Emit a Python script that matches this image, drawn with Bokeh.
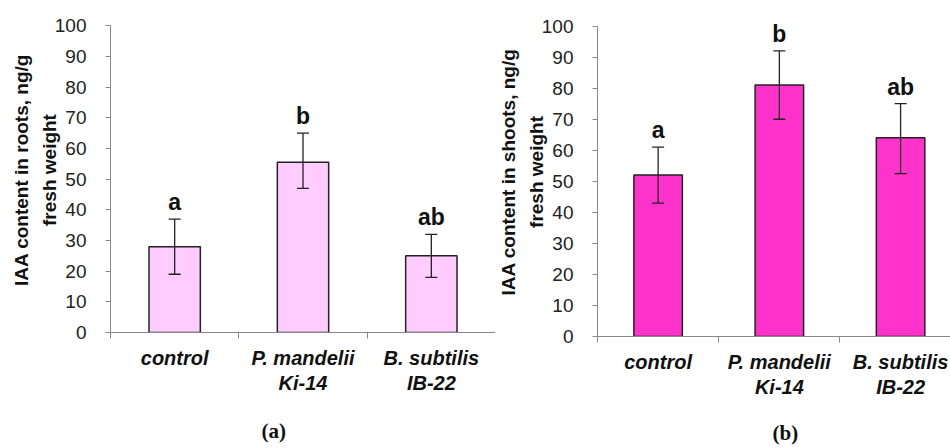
from bokeh.plotting import figure
from bokeh.models import ColumnDataSource, FixedTicker, Title, Whisker, Range1d
from bokeh.layouts import row
from bokeh.core.properties import value
from bokeh.embed import file_html
from bokeh.resources import INLINE

# ---- data ----
categories = ["control", "P. mandelii\nKi-14", "B. subtilis\nIB-22"]
roots_mean = [28, 55.5, 25]
roots_lower = [19, 47, 18]
roots_upper = [37, 65, 32]
roots_letters = ["a", "b", "ab"]
shoots_mean = [52, 81, 64]
shoots_lower = [43, 70, 52.5]
shoots_upper = [61, 92, 75]
shoots_letters = ["a", "b", "ab"]
y_ticks = list(range(0, 101, 10))

SANS = "Liberation Sans"
Y_TOP = 106  # headroom so letters above the axis top are not clipped


def panel(means, lows, ups, letters, ylabel, color, caption, frame_w, px_per_unit,
          border_left, top_of_100, x_end, cap_offset, cap_standoff):
    xs = [i + 0.5 for i in range(len(means))]
    src = ColumnDataSource(dict(x=xs, top=means, lower=lows, upper=ups, letters=letters))
    frame_h = int(round(px_per_unit * Y_TOP))
    border_top = int(round(top_of_100 - px_per_unit * (Y_TOP - 100)))
    p = figure(frame_width=frame_w, frame_height=frame_h, output_backend="svg",
               toolbar_location=None,
               x_range=Range1d(0, x_end), y_range=Range1d(0, Y_TOP),
               min_border_left=border_left, min_border_right=0, min_border_top=border_top,
               min_border_bottom=0)
    p.outline_line_color = None
    p.xgrid.visible = False
    p.ygrid.visible = False
    p.background_fill_color = "white"
    p.border_fill_color = "white"

    p.vbar(x="x", top="top", width=0.4, bottom=0, source=src,
           fill_color=color, line_color="#222222", line_width=1.5)
    w = Whisker(base="x", lower="lower", upper="upper", source=src,
                line_color="#222222", line_width=1.3, level="overlay")
    w.upper_head.size = 12
    w.lower_head.size = 12
    w.upper_head.line_color = "#222222"
    w.lower_head.line_color = "#222222"
    w.upper_head.line_width = 1.3
    w.lower_head.line_width = 1.3
    p.add_layout(w)
    p.text(x="x", y="upper", text="letters", source=src, text_align="center",
           text_baseline="bottom", y_offset=-4, text_font=value(SANS),
           text_font_size="23px", text_font_style="bold", text_color="#111111")

    # y axis
    ya = p.yaxis[0]
    ya.ticker = FixedTicker(ticks=y_ticks)
    ya.bounds = (0, 100)
    ya.axis_line_color = "#888888"
    ya.major_tick_line_color = "#888888"
    ya.major_tick_out = 5
    ya.major_tick_in = 0
    ya.minor_tick_line_color = None
    ya.major_label_standoff = 19
    ya.major_label_text_font = SANS
    ya.major_label_text_font_size = "19px"
    ya.major_label_text_color = "#222222"
    ya.axis_label = ylabel
    ya.axis_label_text_font = SANS
    ya.axis_label_text_font_size = "19px"
    ya.axis_label_text_font_style = "bold"
    ya.axis_label_text_color = "#111111"
    ya.axis_label_standoff = -8
    ya.axis_label_text_line_height = 1.3

    # x axis
    xa = p.xaxis[0]
    xa.ticker = FixedTicker(ticks=xs, minor_ticks=[0, 1, 2, 3])
    xa.major_label_overrides = {x: c for x, c in zip(xs, categories)}
    xa.axis_line_color = "#888888"
    xa.major_tick_line_color = None
    xa.major_tick_out = 0
    xa.major_tick_in = 0
    xa.minor_tick_line_color = "#888888"
    xa.minor_tick_out = 6
    xa.minor_tick_in = 0
    xa.major_label_standoff = 8
    xa.major_label_text_font = SANS
    xa.major_label_text_font_size = "20px"
    xa.major_label_text_font_style = "bold italic"
    xa.major_label_text_color = "#111111"
    xa.major_label_text_line_height = 1.15

    t = Title(text=caption, align="left", offset=cap_offset, standoff=cap_standoff,
              text_font="Liberation Serif", text_font_size="21px",
              text_font_style="bold", text_color="#111111")
    p.add_layout(t, "below")
    return p


p1 = panel(roots_mean, roots_lower, roots_upper, roots_letters,
           "IAA content in roots, ng/g\nfresh weight", "#FFCCFF", "(a)",
           385, 3.07, 110, 25, 3.0, 151, 40)
p2 = panel(shoots_mean, shoots_lower, shoots_upper, shoots_letters,
           "IAA content in shoots, ng/g\nfresh weight", "#FF33CC", "(b)",
           354, 3.10, 99, 24, 2.92, 175, 37)

layout = row(p1, p2)
open("out.html", "w").write(file_html(layout, INLINE))
